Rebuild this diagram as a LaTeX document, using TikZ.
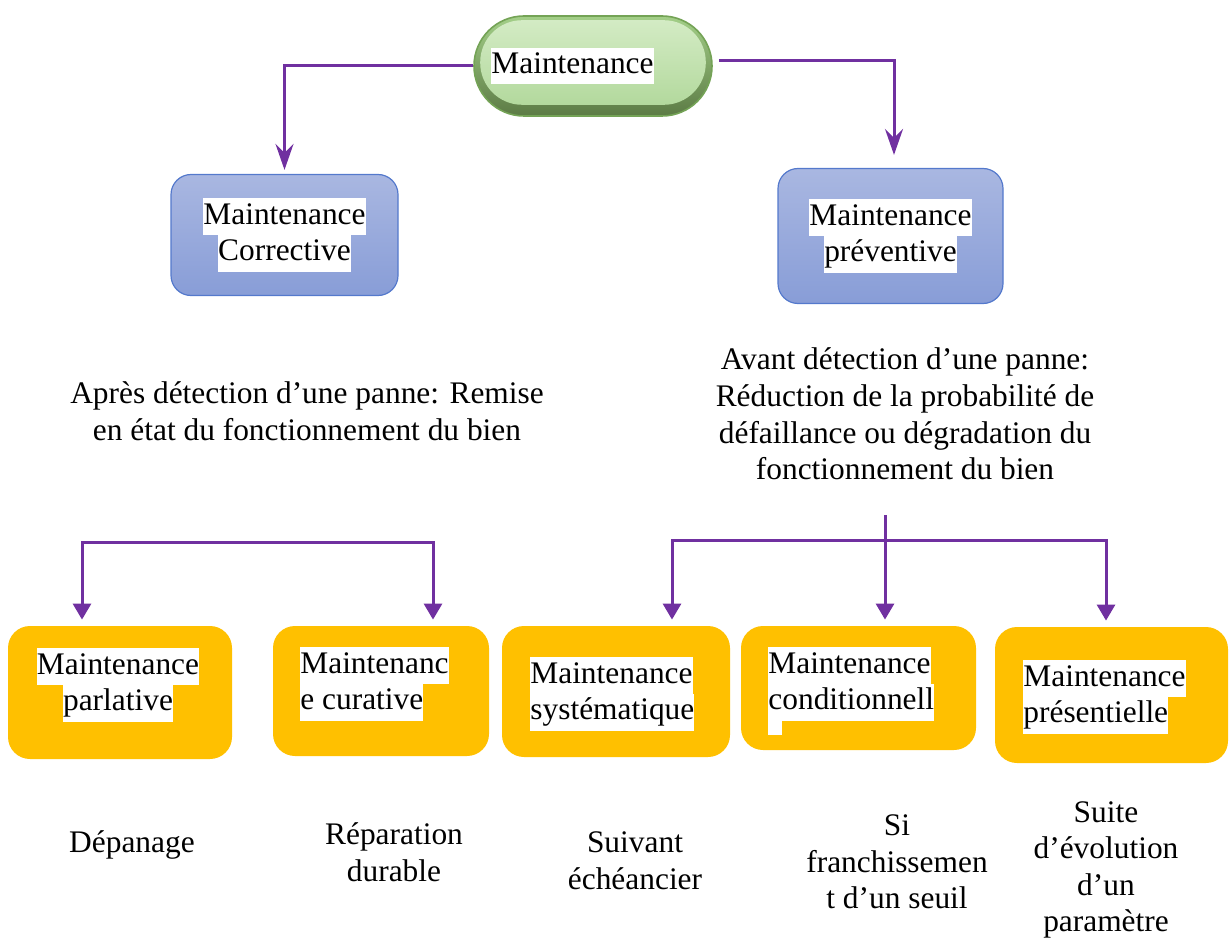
\documentclass[tikz,border=0pt]{standalone}
\usepackage{fontspec}
\setmainfont{Liberation Serif}
\usetikzlibrary{arrows.meta,calc,positioning}
\definecolor{purp}{HTML}{7030A0}
\definecolor{gold}{HTML}{FFC000}
\definecolor{bluetop}{HTML}{A9B7E1}
\definecolor{bluebot}{HTML}{889DD7}
\definecolor{blueedge}{HTML}{5479CC}
\definecolor{pillout}{HTML}{A3CF88}
\definecolor{pilldark}{HTML}{5C7B45}
\definecolor{pilledge}{HTML}{74A356}
\definecolor{pillhi}{HTML}{D3EBC4}
\definecolor{pillmid}{HTML}{B3D99D}
\newcommand{\hl}[1]{{\setlength{\fboxsep}{0pt}\colorbox{white}{\strut#1}}}
\tikzset{
  every node/.style={font=\fontsize{15.7}{18.3}\selectfont, inner sep=0pt},
  lead/.style={-{Stealth[length=13pt,width=9pt,inset=4.5pt]}, line width=1.5pt, purp},
  branch/.style={-{Triangle[length=8pt,width=9pt]}, line width=1.5pt, purp, shorten >=3pt},
  pill/.style={draw=pilledge, line width=0.8pt, top color=pillout, bottom color=pilldark,
    rounded corners=25pt, minimum width=119pt, minimum height=50pt},
  bluebox/.style={draw=blueedge, line width=0.6pt, top color=bluetop, bottom color=bluebot,
    rounded corners=10pt, align=center},
  goldbox/.style={fill=gold, rounded corners=11pt},
}

\begin{document}
\begin{tikzpicture}[x=0.5pt,y=-0.5pt]
  \useasboundingbox (0,0) rectangle (1230,941);

  % --- root ---
  \node[pill] (maint) at (593,66) {};
  \shade[top color=pillhi, bottom color=pillmid, rounded corners=21pt]
    ($(maint.north west)+(7,5)$) rectangle ($(maint.south east)+(-7,-12)$);
  \node (maintlbl) at (572.5,66) {\hl{Maintenance}};

  % --- corrective / preventive ---
  \node[bluebox, minimum width=113.5pt, minimum height=60.5pt] (corr) at (284.5,235)
    {\hl{Maintenance}\\\hl{Corrective}};
  \node[bluebox, minimum width=112.5pt, minimum height=67.5pt] (prev) at (890.5,236)
    {\hl{Maintenance}\\\hl{préventive}};

  \draw[lead, shorten >=2pt] (maint.west) -| (corr.north);
  \coordinate (rstart) at ($(maint.east)+(6,-5)$);
  \draw[lead, shorten >=6.5pt] (rstart) -| ($(prev.north)+(3.5,0)$);

  \node[align=center] (corrdesc) at (307,411)
    {Après détection d’une panne: Remise\\en état du fonctionnement du bien};
  \node[align=center] (prevdesc) at (905,414)
    {Avant détection d’une panne:\\Réduction de la probabilité de\\défaillance ou dégradation du\\fonctionnement du bien};

  % --- third level ---
  \node[goldbox, minimum width=112pt, minimum height=66.5pt] (parl) at (120,692.5) {};
  \node[goldbox, minimum width=108pt, minimum height=65pt] (cura) at (381,691) {};
  \node[goldbox, minimum width=114pt, minimum height=65.5pt] (syst) at (616,691.5) {};
  \node[goldbox, minimum width=117.5pt, minimum height=62pt] (cond) at (858.5,688) {};
  \node[goldbox, minimum width=116.5pt, minimum height=68pt] (pres) at (1111.5,695) {};

  \node[anchor=north, align=center] (parllbl) at (118,648) {\hl{Maintenance}\\\hl{parlative}};
  \node[anchor=north west, align=left] (curalbl) at (300,647) {\hl{Maintenanc}\\\hl{e curative}};
  \node[anchor=north west, align=left] (systlbl) at (530,657) {\hl{Maintenance}\\\hl{systématique}};
  \node[anchor=north west, align=left] (condlbl) at (768,647) {\hl{Maintenance}\\\hl{conditionnell}};
  \node[fill=white, anchor=north west, minimum width=7pt, minimum height=8pt] (condgap) at (768,719) {};
  \node[anchor=north west, align=left] (preslbl) at (1023,660) {\hl{Maintenance}\\\hl{présentielle}};

  \coordinate (lbar) at (257,542);
  \draw[branch] (lbar) -| ($(parl.north)+(-38,0)$);
  \draw[branch] (lbar) -| ($(cura.north)+(52,0)$);
  \coordinate (rtop) at (885,515);
  \coordinate (rbar) at (885,540);
  \draw[branch] (rtop) -- (rtop |- cond.north);
  \draw[branch] (rbar) -| ($(syst.north)+(56,0)$);
  \draw[branch] (rbar) -| ($(pres.north)+(-5.5,0)$);

  % --- bottom notes ---
  \node (depn) at (132,845) {Dépanage};
  \node[align=center] (repa) at (394,852) {Réparation\\durable};
  \node[align=center] (suiv) at (635,861) {Suivant\\échéancier};
  \node[align=center] (seuil) at (897,862) {Si\\franchissemen\\t d’un seuil};
  \node[align=center] (evol) at (1106,870) {Suite\\d’évolution\\d’un\\paramètre};
\end{tikzpicture}
\end{document}
